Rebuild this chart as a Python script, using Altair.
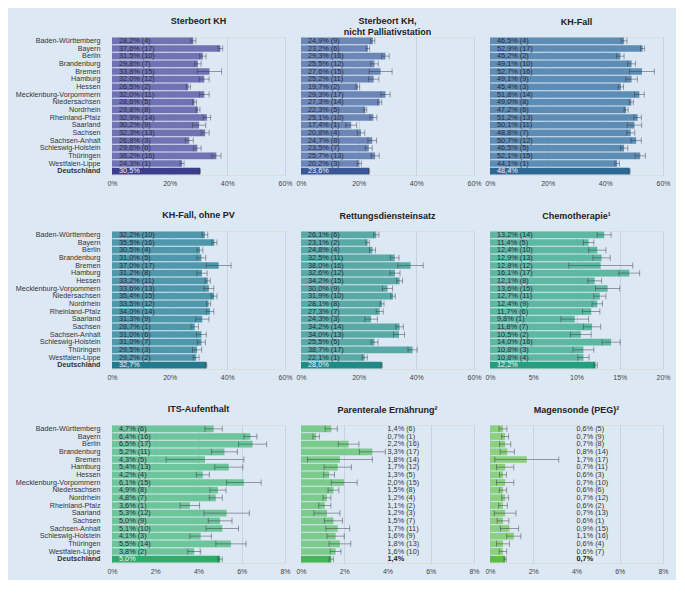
import altair as alt
import pandas as pd

states = ["Baden-Württemberg", "Bayern", "Berlin", "Brandenburg", "Bremen", "Hamburg",
          "Hessen", "Mecklenburg-Vorpommern", "Niedersachsen", "Nordrhein", "Rheinland-Pfalz",
          "Saarland", "Sachsen", "Sachsen-Anhalt", "Schleswig-Holstein", "Thüringen",
          "Westfalen-Lippe", "Deutschland"]

# 1 Sterbeort KH
v1 = [28.2, 37.6, 31.5, 29.8, 33.8, 32.0, 26.5, 32.0, 28.6, 29.8, 32.9, 30.2, 32.3, 26.8, 29.6, 36.2, 24.3, 30.5]
r1 = [4, 17, 10, 7, 15, 12, 2, 11, 5, 8, 14, 9, 13, 3, 6, 16, 1]
e1 = [0.9, 0.8, 1.1, 1.1, 4.2, 1.7, 0.7, 1.7, 0.7, 0.7, 1.3, 2.3, 1.4, 1.4, 1.3, 1.6, 0.7, 0.2]
# 2 Sterbeort KH, nicht Palliativstation
v2 = [24.9, 23.2, 29.3, 25.5, 27.6, 25.2, 19.7, 29.3, 27.3, 22.3, 25.1, 17.4, 20.8, 24.7, 23.5, 25.7, 20.2, 23.6]
r2 = [9, 6, 16, 12, 15, 11, 2, 17, 14, 5, 10, 1, 4, 8, 7, 13, 3]
e2 = [0.7, 0.6, 1.3, 1.3, 4.0, 1.8, 0.65, 1.6, 0.7, 0.5, 1.2, 1.9, 1.3, 1.5, 1.2, 1.4, 0.75, 0.2]
# 3 KH-Fall
v3 = [46.5, 52.9, 45.2, 49.1, 52.7, 49.1, 45.4, 51.8, 49.0, 47.2, 51.2, 50.1, 48.8, 50.7, 46.5, 52.1, 44.1, 48.4]
r3 = [4, 17, 2, 10, 16, 9, 3, 14, 8, 6, 13, 11, 7, 12, 5, 15, 1]
e3 = [1.0, 0.7, 1.3, 1.4, 4.3, 2.0, 0.9, 1.7, 0.75, 0.7, 1.3, 2.5, 1.4, 1.8, 1.3, 1.8, 0.8, 0.2]
# 4 KH-Fall, ohne PV
v4 = [32.2, 35.5, 30.5, 31.0, 37.0, 31.2, 33.2, 33.6, 35.4, 33.5, 34.0, 31.3, 28.7, 31.0, 31.0, 29.5, 29.2, 32.7]
r4 = [10, 16, 4, 5, 17, 8, 11, 13, 15, 12, 14, 9, 1, 6, 7, 3, 2]
e4 = [1.0, 0.9, 1.0, 1.5, 4.3, 1.8, 0.9, 1.7, 1.0, 0.7, 1.3, 2.3, 1.3, 1.7, 1.4, 1.6, 1.0, 0.2]
# 5 Rettungsdiensteinsatz
v5 = [26.1, 23.1, 24.8, 32.5, 38.0, 32.6, 34.2, 30.0, 31.9, 28.1, 27.3, 24.3, 34.2, 34.0, 25.5, 38.7, 22.1, 28.0]
r5 = [6, 2, 4, 11, 16, 12, 15, 9, 10, 8, 7, 3, 14, 13, 5, 17, 1]
e5 = [0.9, 0.6, 1.05, 1.5, 4.4, 1.75, 1.0, 1.75, 0.8, 0.7, 1.2, 2.2, 1.3, 1.9, 1.2, 1.6, 0.9, 0.2]
# 6 Chemotherapie
v6 = [13.2, 11.4, 12.4, 12.9, 12.8, 16.1, 12.1, 13.6, 12.7, 12.4, 11.7, 9.8, 11.8, 10.5, 14.0, 10.8, 10.8, 12.2]
r6 = [14, 5, 10, 13, 12, 17, 8, 15, 11, 9, 6, 1, 7, 2, 16, 3, 4]
e6 = [0.8, 0.6, 1.0, 1.0, 3.7, 1.2, 0.8, 1.4, 0.7, 0.6, 1.0, 1.6, 1.0, 1.2, 1.05, 1.2, 0.65, 0.2]
# 7 ITS-Aufenthalt
v7 = [4.7, 6.4, 6.5, 5.2, 4.3, 5.4, 4.2, 6.1, 4.9, 4.8, 3.6, 5.3, 5.0, 5.1, 4.1, 5.5, 3.8, 5.0]
r7 = [6, 16, 17, 11, 5, 13, 4, 15, 8, 7, 1, 12, 9, 10, 3, 14, 2]
e7 = [0.4, 0.3, 0.65, 0.6, 1.8, 0.65, 0.3, 0.8, 0.37, 0.3, 0.45, 1.05, 0.55, 0.75, 0.5, 0.7, 0.3, 0.1]
# 8 Parenterale Ernährung
v8 = [1.4, 0.7, 2.2, 3.3, 1.8, 1.7, 1.3, 2.0, 1.5, 1.2, 1.1, 1.2, 1.5, 1.7, 1.6, 1.8, 1.6, 1.4]
r8 = [6, 1, 16, 17, 14, 12, 5, 15, 8, 4, 2, 3, 7, 11, 9, 13, 10]
e8 = [0.28, 0.15, 0.48, 0.6, 1.5, 0.63, 0.25, 0.6, 0.25, 0.18, 0.28, 0.6, 0.42, 0.55, 0.4, 0.5, 0.25, 0.1]
# 9 Magensonde (PEG)
v9 = [0.6, 0.7, 0.7, 0.8, 1.7, 0.7, 0.6, 0.7, 0.6, 0.7, 0.6, 0.7, 0.6, 0.9, 1.1, 0.6, 0.6, 0.7]
r9 = [5, 9, 8, 14, 17, 11, 3, 10, 6, 12, 2, 13, 1, 15, 16, 4, 7]
e9 = [0.18, 0.16, 0.26, 0.33, 1.48, 0.4, 0.16, 0.4, 0.17, 0.16, 0.2, 0.5, 0.27, 0.42, 0.33, 0.3, 0.17, 0.05]

FONT = "Liberation Sans"
BG = "#dde8f5"
W, H = 173, 138
ERR_COLOR = "#333333"
ERR_OPACITY = 0.45


def fmt(v):
    return f"{v:.1f}".replace(".", ",") + "%"


def panel(title, vals, ranks, errs, xmax, lab_step, grid_step, col, de_col,
          show_y=False, outside=False, title_dy=0):
    labels = [fmt(v) + f" ({r})" for v, r in zip(vals[:-1], ranks)] + [fmt(vals[-1])]
    df = pd.DataFrame({
        "state": states,
        "value": vals,
        "lo": [v - e for v, e in zip(vals, errs)],
        "hi": [v + e for v, e in zip(vals, errs)],
        "label": labels,
        "tx": [4.0 if outside else 0.0] * len(states),
    })
    grid_vals = [i * grid_step for i in range(int(round(xmax / grid_step)) + 1)]
    xaxis = alt.Axis(values=grid_vals, grid=True, gridColor="#c8d3e1", gridWidth=1,
                     ticks=False, domain=False, labelFlush=False, labelOverlap=False,
                     labelFont=FONT, labelFontSize=7, labelColor="#444", labelPadding=4,
                     labelExpr=f"(datum.value % {lab_step} === 0) ? datum.value + '%' : ''",
                     title=None)
    if show_y:
        yaxis = alt.Axis(title=None, ticks=False, domain=False, labelPadding=12,
                         labelFont=FONT, labelFontSize=7.2, labelColor="#333",
                         labelFontWeight={"condition": {"test": "datum.value === 'Deutschland'",
                                                        "value": "bold"}, "value": "normal"})
    else:
        yaxis = None
    yenc = alt.Y("state:N", sort=states, axis=yaxis, title=None,
                 scale=alt.Scale(paddingInner=0.12, paddingOuter=0.06))
    xs = alt.Scale(domain=[0, xmax], nice=False, zero=True)
    base = alt.Chart(df)
    is_de = alt.datum.state == "Deutschland"
    bars = base.mark_bar().encode(
        x=alt.X("value:Q", scale=xs, axis=xaxis, title=None),
        y=yenc,
        color=alt.condition(is_de, alt.value(de_col), alt.value(col)),
    )
    rule = base.mark_rule(color=ERR_COLOR, opacity=ERR_OPACITY, strokeWidth=1).encode(
        x=alt.X("lo:Q", title=None), x2="hi:Q", y=yenc)
    cap_lo = base.mark_tick(color=ERR_COLOR, opacity=ERR_OPACITY, size=6, thickness=1).encode(
        x=alt.X("lo:Q", title=None), y=yenc)
    cap_hi = base.mark_tick(color=ERR_COLOR, opacity=ERR_OPACITY, size=6, thickness=1).encode(
        x=alt.X("hi:Q", title=None), y=yenc)
    if outside:
        t_st = base.transform_filter(alt.datum.state != "Deutschland").mark_text(
            align="left", baseline="middle", font=FONT, fontSize=7.3, color="#333").encode(
            x=alt.X("tx:Q", title=None), y=yenc, text="label:N")
        t_de = base.transform_filter(alt.datum.state == "Deutschland").mark_text(
            align="left", baseline="middle", font=FONT, fontSize=7.3, color="#222",
            fontWeight="bold").encode(
            x=alt.X("tx:Q", title=None), y=yenc, text="label:N")
    else:
        t_st = base.transform_filter(alt.datum.state != "Deutschland").mark_text(
            align="left", baseline="middle", dx=7, font=FONT, fontSize=7.3,
            color="#2a2a40").encode(
            x=alt.X("tx:Q", title=None), y=yenc, text="label:N")
        t_de = base.transform_filter(alt.datum.state == "Deutschland").mark_text(
            align="left", baseline="middle", dx=7, font=FONT, fontSize=7.3,
            color="#eef2f8").encode(
            x=alt.X("tx:Q", title=None), y=yenc, text="label:N")
    tp = alt.TitleParams(text=title, fontSize=9, fontWeight="bold", font=FONT,
                         anchor="middle", frame="group", color="#222", offset=10,
                         dy=title_dy)
    return alt.layer(bars, rule, cap_lo, cap_hi, t_st, t_de).properties(
        width=W, height=H, title=tp)


p1 = panel("Sterbeort KH", v1, r1, e1, 60, 20, 10, "#7073b3", "#3b3e8a", show_y=True)
p2 = panel(["Sterbeort KH,", "nicht Palliativstation"], v2, r2, e2, 60, 20, 10,
           "#6b86b7", "#395894", title_dy=10)
p3 = panel("KH-Fall", v3, r3, e3, 60, 20, 10, "#5d8cb4", "#2c6892")
p4 = panel("KH-Fall, ohne PV", v4, r4, e4, 60, 20, 10, "#4f98ab", "#237a8d", show_y=True)
p5 = panel("Rettungsdiensteinsatz", v5, r5, e5, 60, 20, 10, "#59a9a7", "#1f8a86")
p6 = panel("Chemotherapie¹", v6, r6, e6, 20, 5, 5, "#5db8a2", "#22a07e")
p7 = panel("ITS-Aufenthalt", v7, r7, e7, 8, 2, 1, "#6cc59b", "#2fab6c", show_y=True)
p8 = panel("Parenterale Ernährung²", v8, r8, e8, 8, 2, 1, "#7bcb8c", "#47b65a", outside=True)
p9 = panel("Magensonde (PEG)²", v9, r9, e9, 8, 2, 1, "#8bd07e", "#5dbd48", outside=True)

chart = alt.concat(p1, p2, p3, p4, p5, p6, p7, p8, p9, columns=3,
                   spacing={"row": 56, "column": 16}, bounds="flush").properties(
    background=BG,
    padding={"left": 6, "top": 8, "right": 5, "bottom": 5},
).configure_view(stroke=None).configure(font=FONT)

chart.save("out.html", embed_options={"renderer": "svg", "actions": False})
